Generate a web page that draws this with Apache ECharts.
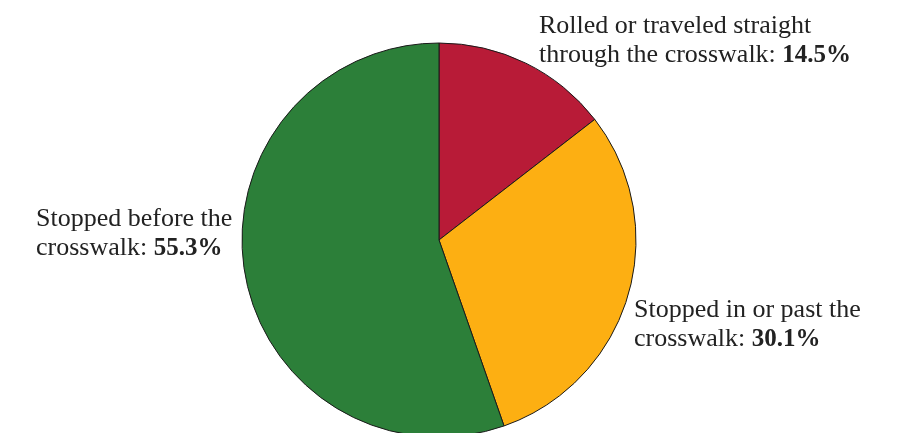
<!DOCTYPE html>
<html><head><meta charset="utf-8">
<script src="https://cdn.jsdelivr.net/npm/echarts@6/dist/echarts.min.js"></script>
<style>html,body{margin:0;padding:0;background:#fff}#c{width:902px;height:433px}</style>
</head><body><div id="c"></div>
<script>
const categories = ["Rolled or traveled straight\nthrough the crosswalk:", "Stopped in or past the\ncrosswalk:", "Stopped before the\ncrosswalk:"];
const values = [14.5, 30.1, 55.3];
const colors = ["#B81B37", "#FDAF12", "#2C7F39"];

const labelPos = [
  {x: 539, y: 12},
  {x: 634, y: 296},
  {x: 36, y: 205}
];

const chart = echarts.init(document.getElementById('c'), null, {renderer: 'canvas'});
chart.setOption({
  animation: false,
  series: [{
    type: 'pie',
    center: [439, 240],
    radius: 197,
    startAngle: 90,
    clockwise: true,
    avoidLabelOverlap: false,
    data: categories.map((n, i) => ({name: n, value: values[i], itemStyle: {color: colors[i]}})),
    itemStyle: {borderColor: '#1a1a1a', borderWidth: 1},
    labelLine: {show: false},
    emphasis: {disabled: true},
    label: {
      show: true,
      position: 'outside',
      formatter: p => {
        const lines = p.name.split('\n');
        return lines.map((l, i) => i === lines.length - 1 ? '{n|' + l + ' }{b|' + p.value.toFixed(1) + '%}' : '{n|' + l + '}').join('\n');
      },
      rich: {
        n: {fontFamily: 'Liberation Serif', fontSize: 26, color: '#222', lineHeight: 29},
        b: {fontFamily: 'Liberation Serif', fontSize: 25, fontWeight: 'bold', color: '#222', lineHeight: 29}
      }
    },
    labelLayout: p => ({x: labelPos[p.dataIndex].x, y: labelPos[p.dataIndex].y, align: 'left', verticalAlign: 'top'})
  }]
});
</script></body></html>
